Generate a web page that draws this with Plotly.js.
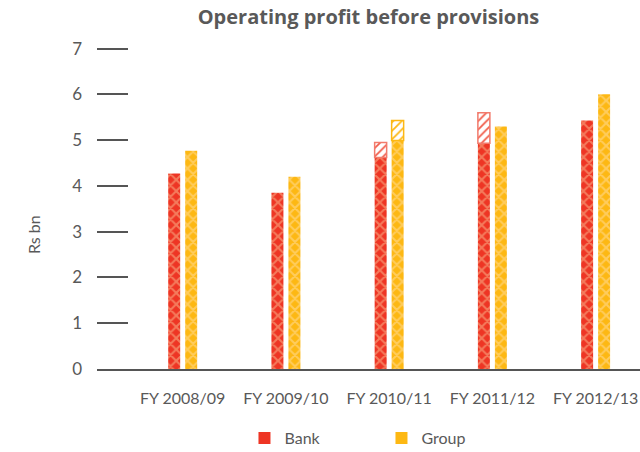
<!DOCTYPE html>
<html>
<head>
<meta charset="utf-8">
<script src="https://cdn.plot.ly/plotly-3.0.1.min.js"></script>
<style>html,body{margin:0;padding:0;background:#fff;}#chart{width:640px;height:452px;}</style>
</head>
<body>
<div id="chart"></div>
<script>
var categories = ["FY 2008/09", "FY 2009/10", "FY 2010/11", "FY 2011/12", "FY 2012/13"];
var bankValues = [4.27, 3.85, 4.62, 4.93, 5.43];
var bankExtra = [null, null, 0.33, 0.67, null];
var groupValues = [4.77, 4.20, 4.99, 5.30, 6.00];
var groupExtra = [null, null, 0.44, null, null];
var yTicks = [0, 1, 2, 3, 4, 5, 6, 7];
var seriesNames = ["Bank", "Group"];

var RED = "#EE3524", RED_LIGHT = "#F47B5C";
var ORANGE = "#FDB813", ORANGE_LIGHT = "#FFCC5C";
var W = 0.1162, BANK_OFF = -0.1404, GROUP_OFF = 0.0242;
var FONT = "Lato, 'Open Sans', sans-serif";

var traces = [
  {type: "bar", name: seriesNames[0], x: categories, y: bankValues, width: W, offset: BANK_OFF, showlegend: false,
   marker: {color: RED, line: {width: 0},
            pattern: {shape: "x", fgcolor: RED_LIGHT, bgcolor: RED, size: 8, solidity: 0.45, fillmode: "replace"}},
   hoverinfo: "none"},
  {type: "bar", name: seriesNames[1], x: categories, y: groupValues, width: W, offset: GROUP_OFF, showlegend: false,
   marker: {color: ORANGE, line: {width: 0},
            pattern: {shape: "x", fgcolor: ORANGE_LIGHT, bgcolor: ORANGE, size: 8, solidity: 0.45, fillmode: "replace"}},
   hoverinfo: "none"},
  {type: "bar", name: "Bank extra", x: categories, y: bankExtra, base: bankValues, width: W, offset: BANK_OFF,
   showlegend: false,
   marker: {color: "#ffffff", line: {width: 1.5, color: "#F27B6C"},
            pattern: {shape: "/", fgcolor: "#F05A48", bgcolor: "#ffffff", size: 6, solidity: 0.3, fillmode: "replace"}},
   hoverinfo: "none"},
  {type: "bar", name: "Group extra", x: categories, y: groupExtra, base: groupValues, width: W, offset: GROUP_OFF,
   showlegend: false,
   marker: {color: "#ffffff", line: {width: 1.5, color: ORANGE},
            pattern: {shape: "/", fgcolor: ORANGE, bgcolor: "#ffffff", size: 6, solidity: 0.3, fillmode: "replace"}},
   hoverinfo: "none"},
  {type: "bar", name: seriesNames[0], x: [categories[0]], y: [null], showlegend: true,
   marker: {color: RED, line: {width: 0}}, hoverinfo: "none"},
  {type: "bar", name: seriesNames[1], x: [categories[0]], y: [null], showlegend: true,
   marker: {color: ORANGE, line: {width: 0}}, hoverinfo: "none"}
];

var layout = {
  width: 640, height: 452,
  margin: {l: 97, r: 0, t: 44, b: 83, pad: 0, autoexpand: false},
  paper_bgcolor: "#ffffff", plot_bgcolor: "#ffffff",
  font: {family: FONT, color: "#595959", size: 16},
  barmode: "overlay",
  showlegend: true,
  title: {text: "<b>Operating profit before provisions</b>", font: {family: "'Open Sans', sans-serif", size: 20, color: "#595959"},
          x: 0.5, xref: "paper", y: 0.962, yref: "container", yanchor: "middle"},
  xaxis: {type: "category", range: [-0.83, 4.43], showgrid: false, zeroline: false,
          showline: true, linecolor: "#555555", linewidth: 2, ticks: "",
          tickfont: {family: FONT, size: 16, color: "#595959"}, ticklabelstandoff: 14, fixedrange: true},
  yaxis: {range: [0, 7.1], tickvals: yTicks, ticktext: yTicks.map(String), showgrid: false, zeroline: false,
          showline: false, ticks: "inside", ticklen: 31, tickwidth: 2, tickcolor: "#555555",
          tickfont: {family: FONT, size: 17, color: "#595959"}, ticklabelstandoff: 14, fixedrange: true},
  legend: {orientation: "h", x: 0.2716, xanchor: "left", y: 0.031, yref: "container", yanchor: "middle",
           font: {family: FONT, size: 16, color: "#595959"}, entrywidth: 92, itemclick: false},
  annotations: [{text: "Rs bn", textangle: -90, xref: "paper", yref: "paper", x: -0.118, y: 0.415,
                 showarrow: false, xanchor: "center", yanchor: "middle",
                 font: {family: FONT, size: 16, color: "#595959"}}]
};

Plotly.newPlot("chart", traces, layout, {displayModeBar: false, staticPlot: true});
</script>
</body>
</html>
